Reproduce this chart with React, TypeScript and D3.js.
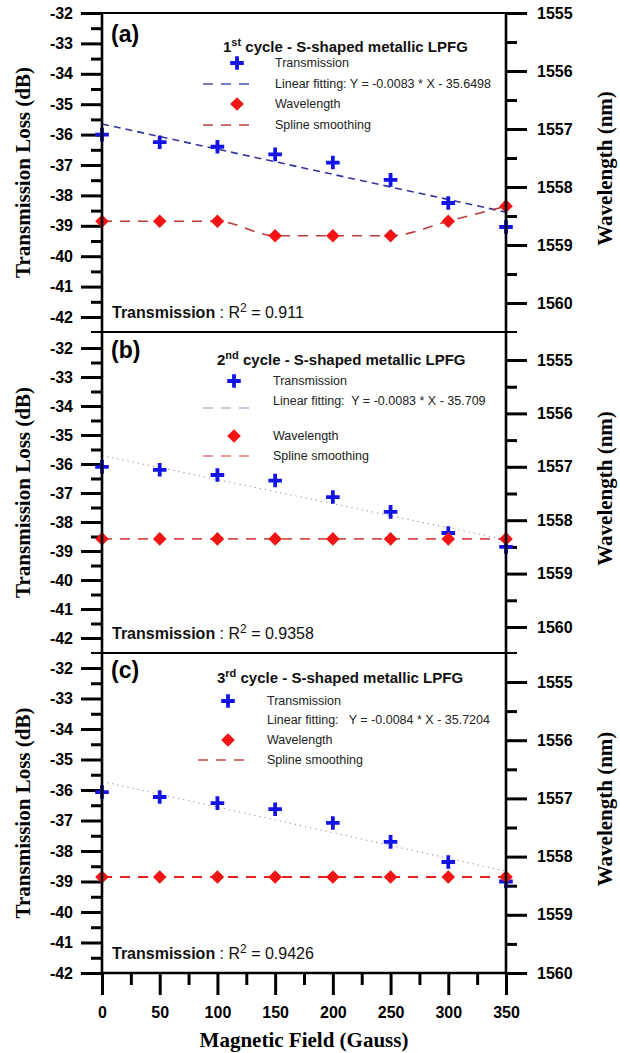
import React, { useEffect, useRef } from "react";
import * as d3 from "d3";

// magnetic field (Gauss)
const fields = [0, 50, 100, 150, 200, 250, 300, 350];

// transmission loss (dB), one array per cycle
const transA = [-36.0, -36.25, -36.4, -36.65, -36.92, -37.49, -38.25, -39.04];
const transB = [-36.1, -36.2, -36.38, -36.57, -37.14, -37.65, -38.38, -38.86];
const transC = [-36.07, -36.23, -36.43, -36.63, -37.08, -37.7, -38.36, -39.0];

// resonance wavelength (nm)
const waveA = [1558.59, 1558.59, 1558.59, 1558.84, 1558.84, 1558.84, 1558.59, 1558.33];
const waveB = [1558.35, 1558.35, 1558.35, 1558.35, 1558.35, 1558.35, 1558.35, 1558.35];
const waveC = [1558.35, 1558.35, 1558.35, 1558.35, 1558.35, 1558.35, 1558.35, 1558.35];

// linear fit end values at 0 and 350 Gauss
const fitA = [-35.65, -38.55];
const fitB = [-35.71, -38.61];
const fitC = [-35.72, -38.66];

const panelLetters = ["(a)", "(b)", "(c)"];
const cycleNums = ["1", "2", "3"];
const cycleSups = ["st", "nd", "rd"];
const fitTexts = [
  "Linear fitting: Y = -0.0083 * X - 35.6498",
  "Linear fitting:  Y = -0.0083 * X - 35.709",
  "Linear fitting:   Y = -0.0084 * X - 35.7204",
];
const r2Values = ["0.911", "0.9358", "0.9426"];

const lossTicks = d3.range(-42, -31, 1);
const lossMinor = d3.range(-41.5, -32, 1);
const waveTicks = d3.range(1555, 1561, 1);
const waveMinor = d3.range(1555.5, 1560, 1);
const fieldTicks = d3.range(0, 351, 50);
const fieldMinor = d3.range(25, 350, 50);

const sans = "'Liberation Sans', Arial, sans-serif";
const serif = "'Liberation Serif', 'Times New Roman', serif";

const CROSS = "M-6.8,0H6.8M0,-6.8V6.8";
const DIAMOND = "M0,-6.8L6.8,0L0,6.8L-6.8,0Z";

export default function App() {
  const svgRef = useRef<SVGSVGElement>(null);

  useEffect(() => {
    const svg = d3.select(svgRef.current);
    svg.selectAll("*").remove();

    const xLeft = 102;
    const xRight = 506;
    const x = d3.scaleLinear().domain([0, 350]).range([xLeft, xRight]);

    const panels = [
      {
        trans: transA, wave: waveA, fit: fitA,
        top: 13, bottom: 332, l32: 13, l42: 317, r55: 13, r60: 303,
        fitStroke: "#34349c", fitDash: "7,5", fitWidth: 1.6,
        legFitStroke: "#5050b0", legFitDash: "10,8",
        splineStroke: "#b83a3a", splineDash: "10,8", splineWidth: 1.6,
        legSplineStroke: "#b84040",
        curve: d3.curveMonotoneX,
        leg: { titleX: 223, titleY: 52, symX: 237, textX: 275, rows: [63, 84, 104, 125], lineX: [203, 257], fitLineY: 84 },
        letterY: 42,
      },
      {
        trans: transB, wave: waveB, fit: fitB,
        top: 332, bottom: 653, l32: 348, l42: 638, r55: 360, r60: 627,
        fitStroke: "#8a8a9a", fitDash: "1.2,4", fitWidth: 1,
        legFitStroke: "#b4bccc", legFitDash: "10,8",
        splineStroke: "#d85050", splineDash: "10,8", splineWidth: 1.6,
        legSplineStroke: "#d87878",
        curve: d3.curveLinear,
        leg: { titleX: 217, titleY: 365, symX: 234, textX: 273, rows: [381, 401, 436, 456], lineX: [203, 255], fitLineY: 408 },
        letterY: 358,
      },
      {
        trans: transC, wave: waveC, fit: fitC,
        top: 653, bottom: 973, l32: 668, l42: 973, r55: 682, r60: 973,
        fitStroke: "#8a8a9a", fitDash: "1.2,4", fitWidth: 1,
        legFitStroke: null, legFitDash: "",
        splineStroke: "#e82020", splineDash: "10,8", splineWidth: 2,
        legSplineStroke: "#c04848",
        curve: d3.curveLinear,
        leg: { titleX: 217, titleY: 683, symX: 228, textX: 267, rows: [701, 720, 740, 760], lineX: [198, 248], fitLineY: null },
        letterY: 678,
      },
    ];

    const styleAxis = (sel) => {
      sel.select(".domain").remove();
      sel.selectAll("line").attr("stroke", "#000").attr("stroke-width", 3);
      sel
        .attr("font-family", sans)
        .attr("font-size", 16)
        .attr("font-weight", "bold");
      sel.selectAll("text").attr("fill", "#000");
    };

    panels.forEach((p, i) => {
      const yL = d3.scaleLinear().domain([-32, -42]).range([p.l32, p.l42]);
      const yR = d3.scaleLinear().domain([1555, 1560]).range([p.r55, p.r60]);
      const g = svg.append("g");

      // Left axis ticks
      g.append("g")
        .attr("transform", `translate(${xLeft},0)`)
        .call(d3.axisLeft(yL).tickValues(lossTicks).tickSize(21).tickPadding(8).tickFormat((d) => String(d)))
        .call(styleAxis);
      g.append("g")
        .attr("transform", `translate(${xLeft},0)`)
        .call(d3.axisLeft(yL).tickValues(lossMinor).tickSize(11).tickFormat(() => ""))
        .call(styleAxis);

      // Right axis ticks
      g.append("g")
        .attr("transform", `translate(${xRight},0)`)
        .call(d3.axisRight(yR).tickValues(waveTicks).tickSize(21).tickPadding(10).tickFormat((d) => String(d)))
        .call(styleAxis);
      g.append("g")
        .attr("transform", `translate(${xRight},0)`)
        .call(d3.axisRight(yR).tickValues(waveMinor).tickSize(11).tickFormat(() => ""))
        .call(styleAxis);

      // Panel top border
      g.append("line")
        .attr("x1", i === 0 ? xLeft : xLeft - 11)
        .attr("x2", i === 0 ? xRight : xRight + 11)
        .attr("y1", p.top)
        .attr("y2", p.top)
        .attr("stroke", "#000")
        .attr("stroke-width", 2.2);

      // Linear fitting
      g.append("line")
        .attr("x1", x(0))
        .attr("x2", x(350))
        .attr("y1", yL(p.fit[0]))
        .attr("y2", yL(p.fit[1]))
        .attr("stroke", p.fitStroke)
        .attr("stroke-width", p.fitWidth)
        .attr("stroke-dasharray", p.fitDash);

      // Transmission crosses
      g.selectAll(".cross")
        .data(p.trans)
        .enter()
        .append("path")
        .attr("d", CROSS)
        .attr("transform", (d, j) => `translate(${x(fields[j])},${yL(d)})`)
        .attr("stroke", "#1414e6")
        .attr("stroke-width", 3.8)
        .attr("fill", "none");

      // Spline smoothing
      const line = d3
        .line<number>()
        .x((d, j) => x(fields[j]))
        .y((d) => yR(d))
        .curve(p.curve);
      g.append("path")
        .attr("d", line(p.wave))
        .attr("fill", "none")
        .attr("stroke", p.splineStroke)
        .attr("stroke-width", p.splineWidth)
        .attr("stroke-dasharray", p.splineDash);

      // Wavelength diamonds
      g.selectAll(".diamond")
        .data(p.wave)
        .enter()
        .append("path")
        .attr("d", DIAMOND)
        .attr("transform", (d, j) => `translate(${x(fields[j])},${yR(d)})`)
        .attr("fill", "#f01414");

      // Panel letter
      g.append("text")
        .attr("x", 111)
        .attr("y", p.letterY)
        .attr("font-family", sans)
        .attr("font-weight", "bold")
        .attr("font-size", 23)
        .text(panelLetters[i]);

      // Legend
      const L = p.leg;
      const title = g
        .append("text")
        .attr("x", L.titleX)
        .attr("y", L.titleY)
        .attr("font-family", sans)
        .attr("font-weight", "bold")
        .attr("font-size", 15)
        .attr("fill", "#111");
      title.append("tspan").text(cycleNums[i]);
      title.append("tspan").attr("font-size", 11).attr("dy", -6).text(cycleSups[i]);
      title.append("tspan").attr("dy", 6).text(" cycle - S-shaped metallic LPFG");

      g.append("path")
        .attr("d", CROSS)
        .attr("transform", `translate(${L.symX},${L.rows[0]})`)
        .attr("stroke", "#1414e6")
        .attr("stroke-width", 3.8);
      if (L.fitLineY !== null) {
        g.append("line")
          .attr("x1", L.lineX[0])
          .attr("x2", L.lineX[1])
          .attr("y1", L.fitLineY)
          .attr("y2", L.fitLineY)
          .attr("stroke", p.legFitStroke)
          .attr("stroke-width", 1.6)
          .attr("stroke-dasharray", p.legFitDash);
      }
      g.append("path")
        .attr("d", DIAMOND)
        .attr("transform", `translate(${L.symX},${L.rows[2]})`)
        .attr("fill", "#f01414");
      g.append("line")
        .attr("x1", L.lineX[0])
        .attr("x2", L.lineX[1])
        .attr("y1", L.rows[3])
        .attr("y2", L.rows[3])
        .attr("stroke", p.legSplineStroke)
        .attr("stroke-width", 1.6)
        .attr("stroke-dasharray", "10,8");

      const labels = ["Transmission", fitTexts[i], "Wavelength", "Spline smoothing"];
      labels.forEach((t, k) => {
        g.append("text")
          .attr("x", L.textX)
          .attr("y", L.rows[k])
          .attr("dy", "0.35em")
          .attr("font-family", sans)
          .attr("font-size", 12.5)
          .attr("fill", "#222")
          .style("white-space", "pre")
          .text(t);
      });

      // R^2 note
      const r2 = g
        .append("text")
        .attr("x", 112)
        .attr("y", p.bottom - 14)
        .attr("font-family", sans)
        .attr("font-size", 16)
        .attr("fill", "#111");
      r2.append("tspan").attr("font-weight", "bold").text("Transmission");
      r2.append("tspan").style("white-space", "pre").text(" : R");
      r2.append("tspan").attr("font-size", 12).attr("dy", -6).text("2");
      r2.append("tspan").attr("dy", 6).style("white-space", "pre").text(" = " + r2Values[i]);

      // Axis titles
      const midY = (p.top + p.bottom) / 2;
      g.append("text")
        .attr("transform", `translate(30,${midY}) rotate(-90)`)
        .attr("text-anchor", "middle")
        .attr("font-family", serif)
        .attr("font-weight", "bold")
        .attr("font-size", 21)
        .text("Transmission Loss (dB)");
      g.append("text")
        .attr("transform", `translate(612,${midY - 4}) rotate(-90)`)
        .attr("text-anchor", "middle")
        .attr("font-family", serif)
        .attr("font-weight", "bold")
        .attr("font-size", 21)
        .text("Wavelength (nm)");
    });

    // Axis spines
    svg.append("line")
      .attr("x1", xLeft).attr("x2", xLeft).attr("y1", 13).attr("y2", 973)
      .attr("stroke", "#000").attr("stroke-width", 2.6);
    svg.append("line")
      .attr("x1", xRight).attr("x2", xRight).attr("y1", 13).attr("y2", 973)
      .attr("stroke", "#000").attr("stroke-width", 2.6);
    svg.append("line")
      .attr("x1", xLeft).attr("x2", xRight).attr("y1", 973).attr("y2", 973)
      .attr("stroke", "#000").attr("stroke-width", 2.6);

    // Bottom axis
    svg.append("g")
      .attr("transform", "translate(0,973)")
      .call(d3.axisBottom(x).tickValues(fieldTicks).tickSize(22).tickPadding(12).tickFormat((d) => String(d)))
      .call(styleAxis);
    svg.append("g")
      .attr("transform", "translate(0,973)")
      .call(d3.axisBottom(x).tickValues(fieldMinor).tickSize(12).tickFormat(() => ""))
      .call(styleAxis);

    svg.append("text")
      .attr("x", (xLeft + xRight) / 2)
      .attr("y", 1047)
      .attr("text-anchor", "middle")
      .attr("font-family", serif)
      .attr("font-weight", "bold")
      .attr("font-size", 21)
      .text("Magnetic Field (Gauss)");
  }, []);

  return (
    <div style={{ position: "absolute", left: 0, top: 0 }}>
      <svg ref={svgRef} width={620} height={1053} style={{ display: "block", background: "#fff" }}></svg>
    </div>
  );
}
